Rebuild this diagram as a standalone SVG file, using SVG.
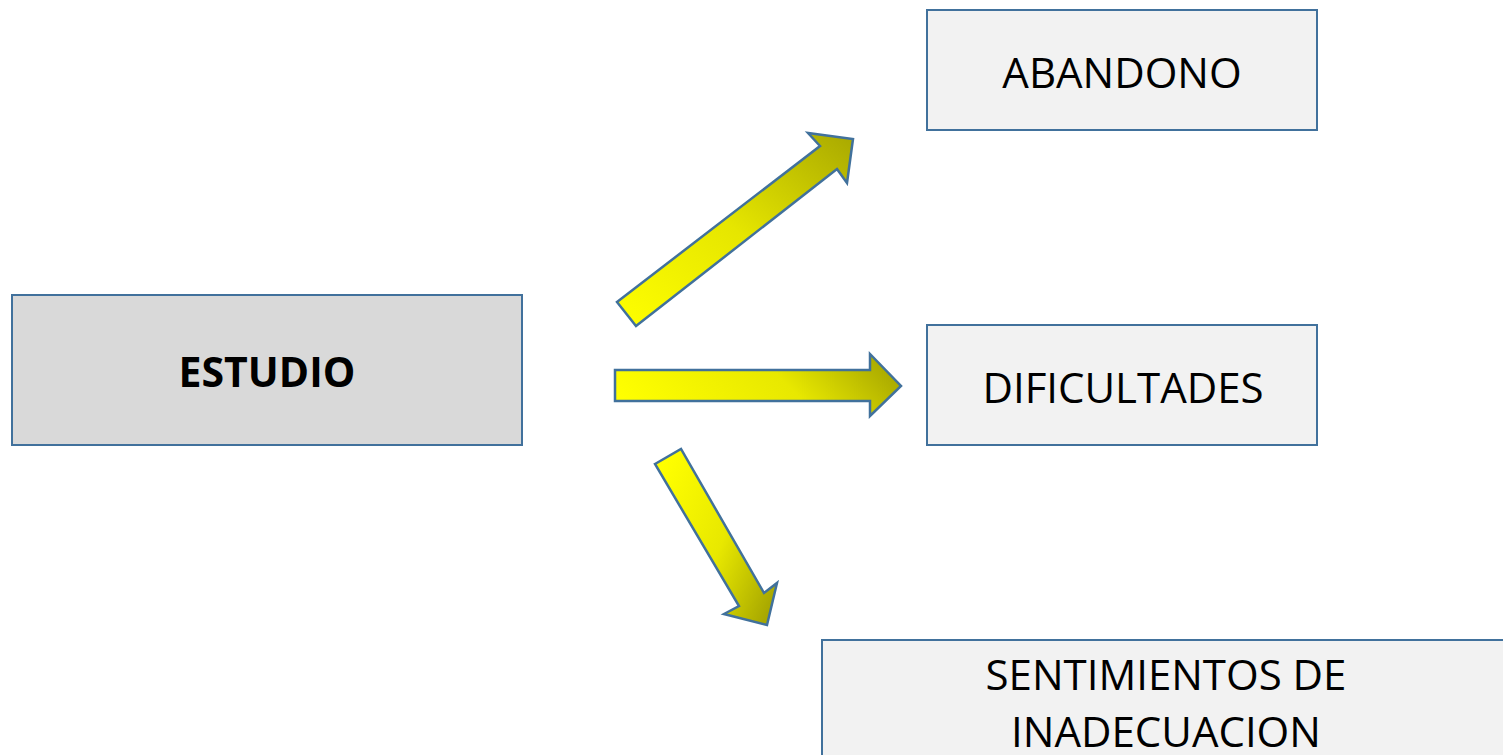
<svg xmlns="http://www.w3.org/2000/svg" width="1503" height="755" viewBox="0 0 1503 755">
<style>
.box{stroke:#41719c;stroke-width:2}
.arr{stroke:#41719c;stroke-width:2.5;stroke-linejoin:miter}
.t{font-family:"Open Sans","Liberation Sans",sans-serif;font-size:42px;fill:#000;text-anchor:middle}
.b{font-weight:bold;font-size:41px}
</style>
<defs>
<linearGradient id="gUp" x1="0" y1="1" x2="1" y2="0">
<stop offset="0" stop-color="#ffff00"/><stop offset="0.5" stop-color="#e6e600"/><stop offset="1" stop-color="#a8a800"/>
</linearGradient>
<linearGradient id="gRight" x1="0" y1="0.6" x2="1" y2="0.4">
<stop offset="0" stop-color="#ffff00"/><stop offset="0.6" stop-color="#e8e800"/><stop offset="1" stop-color="#a8a800"/>
</linearGradient>
<linearGradient id="gDown" x1="0" y1="0.2" x2="1" y2="0.8">
<stop offset="0" stop-color="#ffff00"/><stop offset="0.55" stop-color="#e8e800"/><stop offset="1" stop-color="#a8a800"/>
</linearGradient>
</defs>
<g id="connectors">
<polygon class="arr" fill="url(#gUp)" points="617,302 820,146 808,133 853,139 847,183 837,169 636,326"/>
<polygon class="arr" fill="url(#gRight)" points="615,370 870,370 870,354 901,386 870,416 870,401 615,401"/>
<polygon class="arr" fill="url(#gDown)" points="655,464 681,449 764,593 777,583 767,625 724,614 739,606"/>
</g>
<g id="estudio">
<rect class="box" x="12" y="295" width="510" height="150" fill="#d9d9d9"/>
<text class="t b" x="267" y="387">ESTUDIO</text>
</g>
<g id="abandono">
<rect class="box" x="927" y="10" width="390" height="120" fill="#f2f2f2"/>
<text class="t" x="1122" y="88">ABANDONO</text>
</g>
<g id="dificultades">
<rect class="box" x="927" y="325" width="390" height="120" fill="#f2f2f2"/>
<text class="t" x="1123" y="403">DIFICULTADES</text>
</g>
<g id="sentimientos">
<rect class="box" x="822" y="640" width="720" height="150" fill="#f2f2f2"/>
<text class="t" x="1166" y="690">SENTIMIENTOS DE</text>
<text class="t" x="1166" y="747">INADECUACION</text>
</g>
</svg>
